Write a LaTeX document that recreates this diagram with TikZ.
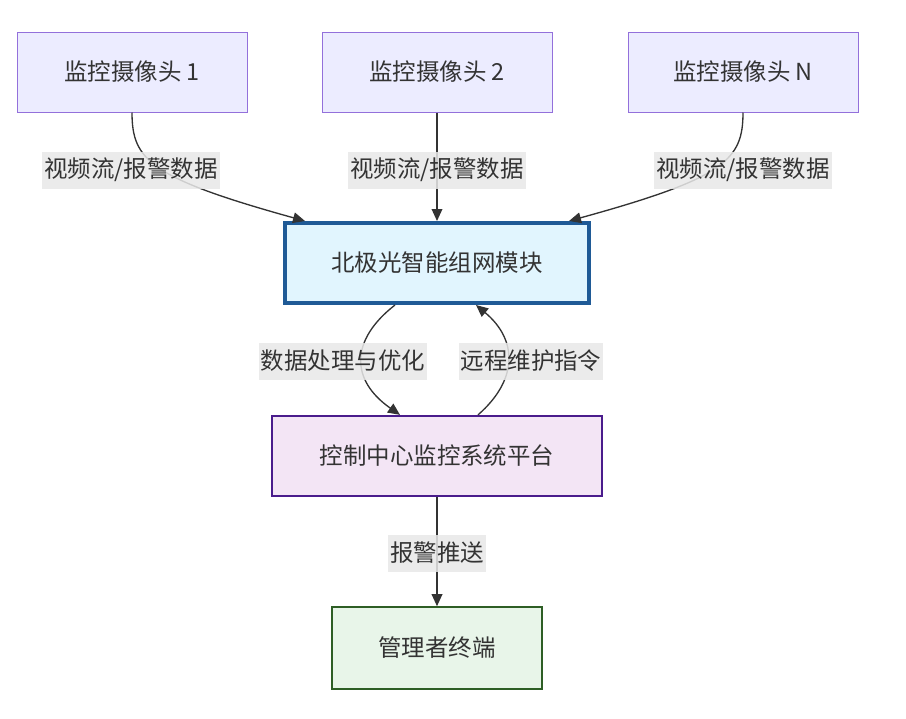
\documentclass[tikz,border=0pt]{standalone}
\usepackage{fontspec}
\setmainfont{Noto Sans CJK SC}
\usepackage{tikz}
\usetikzlibrary{arrows.meta,positioning}

\definecolor{ink}{HTML}{333333}
\definecolor{camfill}{HTML}{ECECFF}
\definecolor{camline}{HTML}{9370DB}
\definecolor{modfill}{HTML}{E1F5FE}
\definecolor{modline}{HTML}{1F5A96}
\definecolor{platfill}{HTML}{F3E5F5}
\definecolor{platline}{HTML}{4A1C8C}
\definecolor{termfill}{HTML}{E8F5E9}
\definecolor{termline}{HTML}{2E5E25}
\definecolor{lblfill}{HTML}{E8E8E8}

\tikzset{
  box/.style = {draw, rectangle, text = ink, font = \fontsize{17.6pt}{20pt}\selectfont, minimum height = 60pt},
  cam/.style = {box, fill = camfill, draw = camline, line width = 0.75pt, minimum width = 172.5pt},
  link/.style = {draw = ink, line width = 1pt, -{Triangle[length = 9pt, width = 8pt]}},
  lbl/.style = {fill = lblfill, fill opacity = 0.85, text opacity = 1, text = ink, inner xsep = 1.5pt,
                minimum height = 27.75pt, font = \fontsize{17.6pt}{20pt}\selectfont}
}

\begin{document}
\begin{tikzpicture}[x = 0.75pt, y = -0.75pt]
\useasboundingbox (0,0) rectangle (906,718);

% cameras
\node[cam] (cam1) at (132,72) {监控摄像头 1};
\node[cam] (cam2) at (437,72) {监控摄像头 2};
\node[cam] (camN) at (743,72) {监控摄像头 N};

% module, platform, terminal
\node[box, fill = modfill, draw = modline, line width = 3pt, minimum width = 228pt, minimum height = 60pt] (module) at (437,263) {北极光智能组网模块};
\node[box, fill = platfill, draw = platline, line width = 1.7pt, minimum width = 247pt, minimum height = 60pt] (platform) at (437,456) {控制中心监控系统平台};
\node[box, fill = termfill, draw = termline, line width = 1.7pt, minimum width = 157pt, minimum height = 61pt] (terminal) at (437,648) {管理者终端};

% connectors
\draw[link] (cam1.south) .. controls (132,160) and (150,178) .. (module.north west -| 305,0);
\draw[link] (cam2.south) -- (module.north);
\draw[link] (camN.south) .. controls (743,160) and (725,178) .. (module.north east -| 569,0);
\draw[link] (module.south -| 395,0) .. controls (350,340) and (350,380) .. (platform.north -| 400,0);
\draw[link] (platform.north -| 478,0) .. controls (518,380) and (518,340) .. (module.south -| 476,0);
\draw[link] (platform.south) -- (terminal.north);

% edge labels
\node[lbl] (l1) at (131,170) {视频流/报警数据};
\node[lbl] (l2) at (437,170) {视频流/报警数据};
\node[lbl] (l3) at (743,170) {视频流/报警数据};
\node[lbl] (l4) at (343,361) {数据处理与优化};
\node[lbl] (l5) at (531,361) {远程维护指令};
\node[lbl] (l6) at (437,553) {报警推送};
\end{tikzpicture}
\end{document}
